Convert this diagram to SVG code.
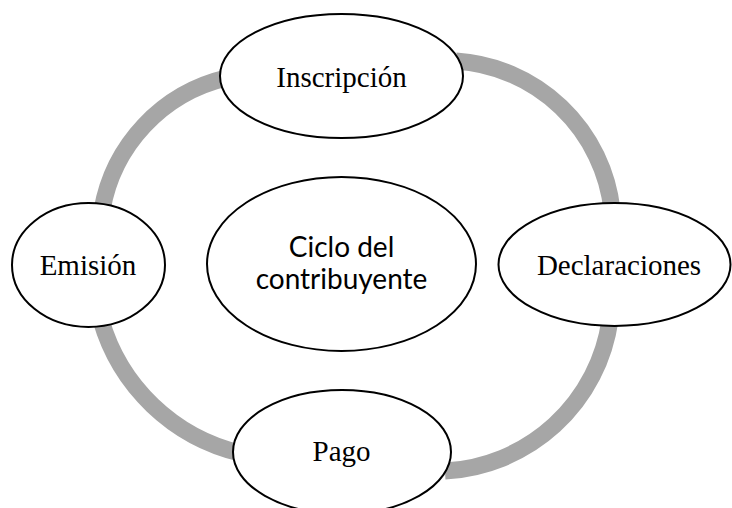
<svg xmlns="http://www.w3.org/2000/svg" width="732" height="508" viewBox="0 0 732 508">
<style>
.arc{fill:none;stroke:#A6A6A6;stroke-width:17}
.node{fill:#FFFFFF;stroke:#000000;stroke-width:2}
.lbl{font-family:"Liberation Serif","Times New Roman",serif;font-size:29px;fill:#000000;text-anchor:middle}
.ctr{font-family:Lato,"Open Sans",sans-serif;font-size:28px;fill:#000000;text-anchor:middle}
</style>
<rect width="732" height="508" fill="#FFFFFF"/>
<g id="connectors">
<path class="arc" d="M102,210 A165,165 0 0 1 226,78"/>
<path class="arc" d="M456,61 A168,168 0 0 1 612,210"/>
<path class="arc" d="M610,320 A176,176 0 0 1 445,471"/>
<path class="arc" d="M240,453 A191,191 0 0 1 101,320"/>
</g>
<g id="node-inscripcion">
<ellipse class="node" cx="341.5" cy="76" rx="121.5" ry="62"/>
<text class="lbl" x="341.5" y="87">Inscripción</text>
</g>
<g id="node-declaraciones">
<ellipse class="node" cx="614.5" cy="264.5" rx="116" ry="61.5"/>
<text class="lbl" x="619" y="275">Declaraciones</text>
</g>
<g id="node-pago">
<ellipse class="node" cx="342" cy="452" rx="109" ry="62"/>
<text class="lbl" x="341.5" y="461">Pago</text>
</g>
<g id="node-emision">
<ellipse class="node" cx="88.5" cy="265" rx="76.5" ry="62"/>
<text class="lbl" x="88" y="275">Emisión</text>
</g>
<g id="node-centro">
<ellipse class="node" cx="341.5" cy="264" rx="134.5" ry="87"/>
<text class="ctr" x="341.5" y="257">Ciclo del</text>
<text class="ctr" x="341.5" y="289">contribuyente</text>
</g>
</svg>
